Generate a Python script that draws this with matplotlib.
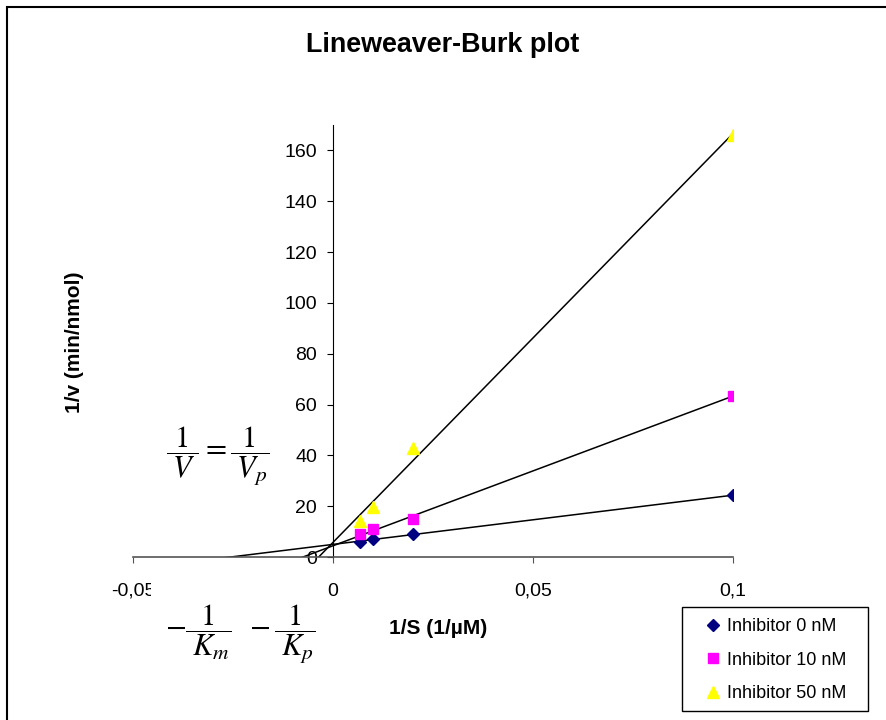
import numpy as np
import matplotlib
matplotlib.use("Agg")
import matplotlib.pyplot as plt
from matplotlib.patches import Rectangle
from matplotlib.ticker import FixedLocator, FixedFormatter

plt.rcParams['font.family'] = ['Liberation Sans', 'DejaVu Sans']
plt.rcParams['mathtext.fontset'] = 'stix'

# data
inv_s = [1/150, 1/100, 1/50, 1/10]
inh0 = [6.0, 7.0, 9.0, 24.3]
inh10 = [8.9, 10.9, 14.9, 63.5]
inh50 = [14.2, 19.7, 43.0, 166.0]
labels = ["Inhibitor 0 nM", "Inhibitor 10 nM", "Inhibitor 50 nM"]
xticks = [-0.05, 0, 0.05, 0.1]
xticklabels = ["-0,05", "0", "0,05", "0,1"]
yticks = [0, 20, 40, 60, 80, 100, 120, 140, 160]

W, H = 886, 720
fig = plt.figure(figsize=(W/100, H/100), dpi=100)
ax = fig.add_axes([133/W, (H-557)/H, 600/W, 432/H])
ax.set_xlim(-0.05, 0.1)
ax.set_ylim(0, 170)

styles = [dict(marker='D', color='#000080', ms=6),
          dict(marker='s', color='#FF00FF', ms=6.5),
          dict(marker='^', color='#FFFF00', ms=8)]
handles = []
xs = np.array(inv_s)
xl = np.array([-0.05, 0.1])
for ys, st, lab in zip([inh0, inh10, inh50], styles, labels):
    m, b = np.polyfit(xs, np.array(ys), 1)
    ax.plot(xl, m*xl + b, color='black', lw=1.1, zorder=2)
    h, = ax.plot(xs, ys, linestyle='none', marker=st['marker'], ms=st['ms'],
                 mfc=st['color'], mec=st['color'], label=lab, zorder=3)
    handles.append(h)

for s in ['top', 'right']:
    ax.spines[s].set_visible(False)
ax.spines['left'].set_position(('data', 0))
ax.spines['bottom'].set_position(('data', 0))
ax.spines['left'].set_color('black')
ax.spines['bottom'].set_color('#555555')
ax.spines['bottom'].set_linewidth(1.2)
ax.xaxis.set_major_locator(FixedLocator(xticks))
ax.xaxis.set_major_formatter(FixedFormatter(xticklabels))
ax.set_yticks(yticks)
ax.tick_params(axis='x', direction='out', length=4.5, pad=14, labelsize=14, color='#555555')
ax.tick_params(axis='y', direction='out', length=4.5, pad=7, labelsize=14)
ax.patch.set_visible(False)

fig.text(443/W, 1-45/H, "Lineweaver-Burk plot", ha='center', va='center',
         fontsize=19.4, fontweight='bold')
fig.text(75/W, 1-342/H, "1/v (min/nmol)", ha='center', va='center',
         rotation=90, fontsize=15, fontweight='bold')
fig.text(438/W, 1-628/H, "1/S (1/\u00b5M)", ha='center', va='center',
         fontsize=15, fontweight='bold')

# outer chart border (left/top visible)
fig.patches.append(Rectangle((7/W, -0.1), 1.2, 1.1 - 7/H, transform=fig.transFigure,
                             fill=False, edgecolor='black', lw=1.5, zorder=0))
# white background of the equation image (hides part of a tick label)
fig.patches.append(Rectangle((151/W, 1-684/H), 170/W, 104/H, transform=fig.transFigure,
                             facecolor='white', edgecolor='none', zorder=5))

fig.text(218/W, 1-456/H, r"$\dfrac{\;1\;}{\;V\;}=\dfrac{\;1\;}{\;V_p}$", ha='center', va='center',
         fontsize=22, zorder=6)
fig.text(240/W, 1-634/H, r"$-\dfrac{\;1\;}{\;K_m}\;\;-\dfrac{\;1\;}{\;K_p}$", ha='center', va='center',
         fontsize=22, zorder=6)

# legend frame drawn separately, legend entries without frame
fig.patches.append(Rectangle((682/W, 1-711/H), 186/W, 104/H, transform=fig.transFigure,
                             facecolor='white', edgecolor='black', lw=1.0, zorder=6))
leg = fig.legend(handles=handles, labels=labels, loc='upper left',
                 bbox_to_anchor=(707/W, 1-618/H), fontsize=13, frameon=False,
                 handlelength=0.7, handletextpad=0.4, labelspacing=0.92,
                 borderpad=0.0, borderaxespad=0)
leg.set_zorder(7)

fig.savefig("out.png", dpi=100)
